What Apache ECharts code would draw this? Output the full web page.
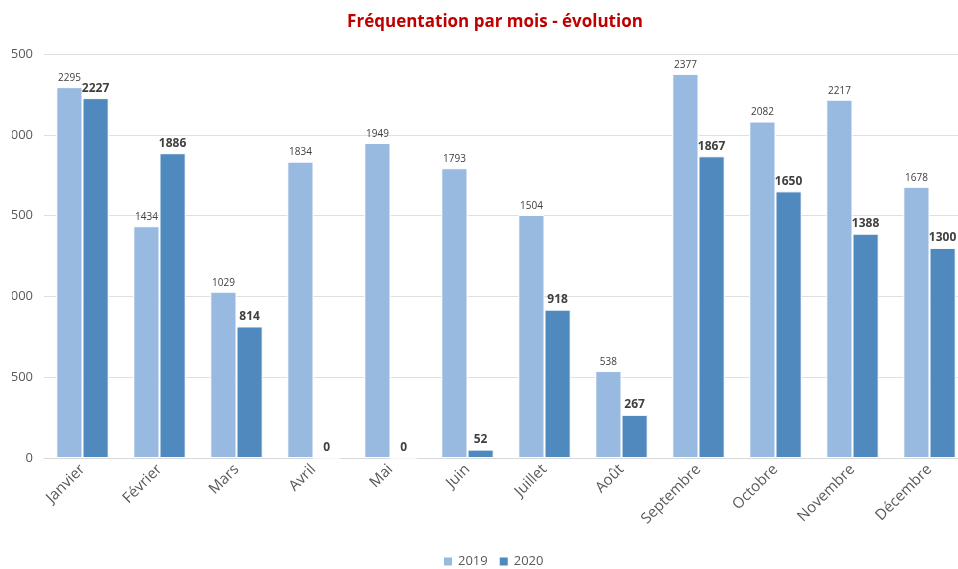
<!DOCTYPE html>
<html>
<head>
<meta charset="utf-8">
<script src="https://cdn.jsdelivr.net/npm/echarts@6/dist/echarts.min.js"></script>
<style>
  html, body { margin: 0; padding: 0; width: 958px; height: 569px; overflow: hidden; background: #fff; }
  /* le graphique d'origine est rogné à gauche et à droite */
  #chart { position: absolute; left: -12px; top: 0; width: 990px; height: 569px; }
</style>
</head>
<body>
<div id="chart"></div>
<script>
const months = ['Janvier', 'Février', 'Mars', 'Avril', 'Mai', 'Juin', 'Juillet', 'Août', 'Septembre', 'Octobre', 'Novembre', 'Décembre']
const data2019 = [2295, 1434, 1029, 1834, 1949, 1793, 1504, 538, 2377, 2082, 2217, 1678]
const data2020 = [2227, 1886, 814, 0, 0, 52, 918, 267, 1867, 1650, 1388, 1300]

const font = '"Open Sans", "DejaVu Sans", sans-serif'
const mChart = echarts.init(document.getElementById('chart'))

const options = {
  animation: false,
  textStyle: { fontFamily: font },
  title: {
    text: 'Fréquentation par mois - évolution',
    left: 502,
    textAlign: 'center',
    top: 9,
    textStyle: { color: '#c00000', fontSize: 17, fontWeight: 'bold', fontFamily: font }
  },
  legend: {
    data: ['2019', '2020'],
    top: 555,
    left: 454,
    icon: 'rect',
    itemWidth: 10,
    itemHeight: 10,
    itemGap: 10,
    padding: 0,
    textStyle: { color: '#595959', fontSize: 13 }
  },
  grid: { left: 56, right: 10, top: 54, bottom: 111, containLabel: false },
  xAxis: {
    type: 'category',
    data: months,
    axisLine: { lineStyle: { color: '#d9d9d9', width: 1 } },
    axisTick: { show: false },
    axisLabel: { rotate: 45, color: '#595959', fontSize: 15, margin: 9, interval: 0 }
  },
  yAxis: {
    type: 'value',
    min: 0,
    max: 2500,
    interval: 500,
    axisLine: { show: false },
    axisTick: { show: false },
    axisLabel: { color: '#595959', fontSize: 13, margin: 11, formatter: v => String(v) },
    splitLine: { lineStyle: { color: '#e0e0e0' } }
  },
  // bande blanche : le bord gauche de l'image d'origine est coupé
  graphic: [{
    type: 'rect',
    left: 0,
    top: 0,
    z: 100,
    shape: { width: 24, height: 500 },
    style: { fill: '#ffffff' }
  }],
  series: [
    {
      name: '2019',
      type: 'bar',
      data: data2019,
      barGap: '0%',
      barCategoryGap: '32%',
      itemStyle: { color: '#98b9e0', borderColor: '#ffffff', borderWidth: 1 },
      label: { show: true, position: 'top', distance: 4, color: '#404040', fontSize: 10 }
    },
    {
      name: '2020',
      type: 'bar',
      data: data2020,
      itemStyle: { color: '#4f89be', borderColor: '#ffffff', borderWidth: 1 },
      label: { show: true, position: 'top', distance: 4, color: '#404040', fontSize: 12, fontWeight: 'bold' }
    }
  ]
}
mChart.setOption(options)
</script>
</body>
</html>
